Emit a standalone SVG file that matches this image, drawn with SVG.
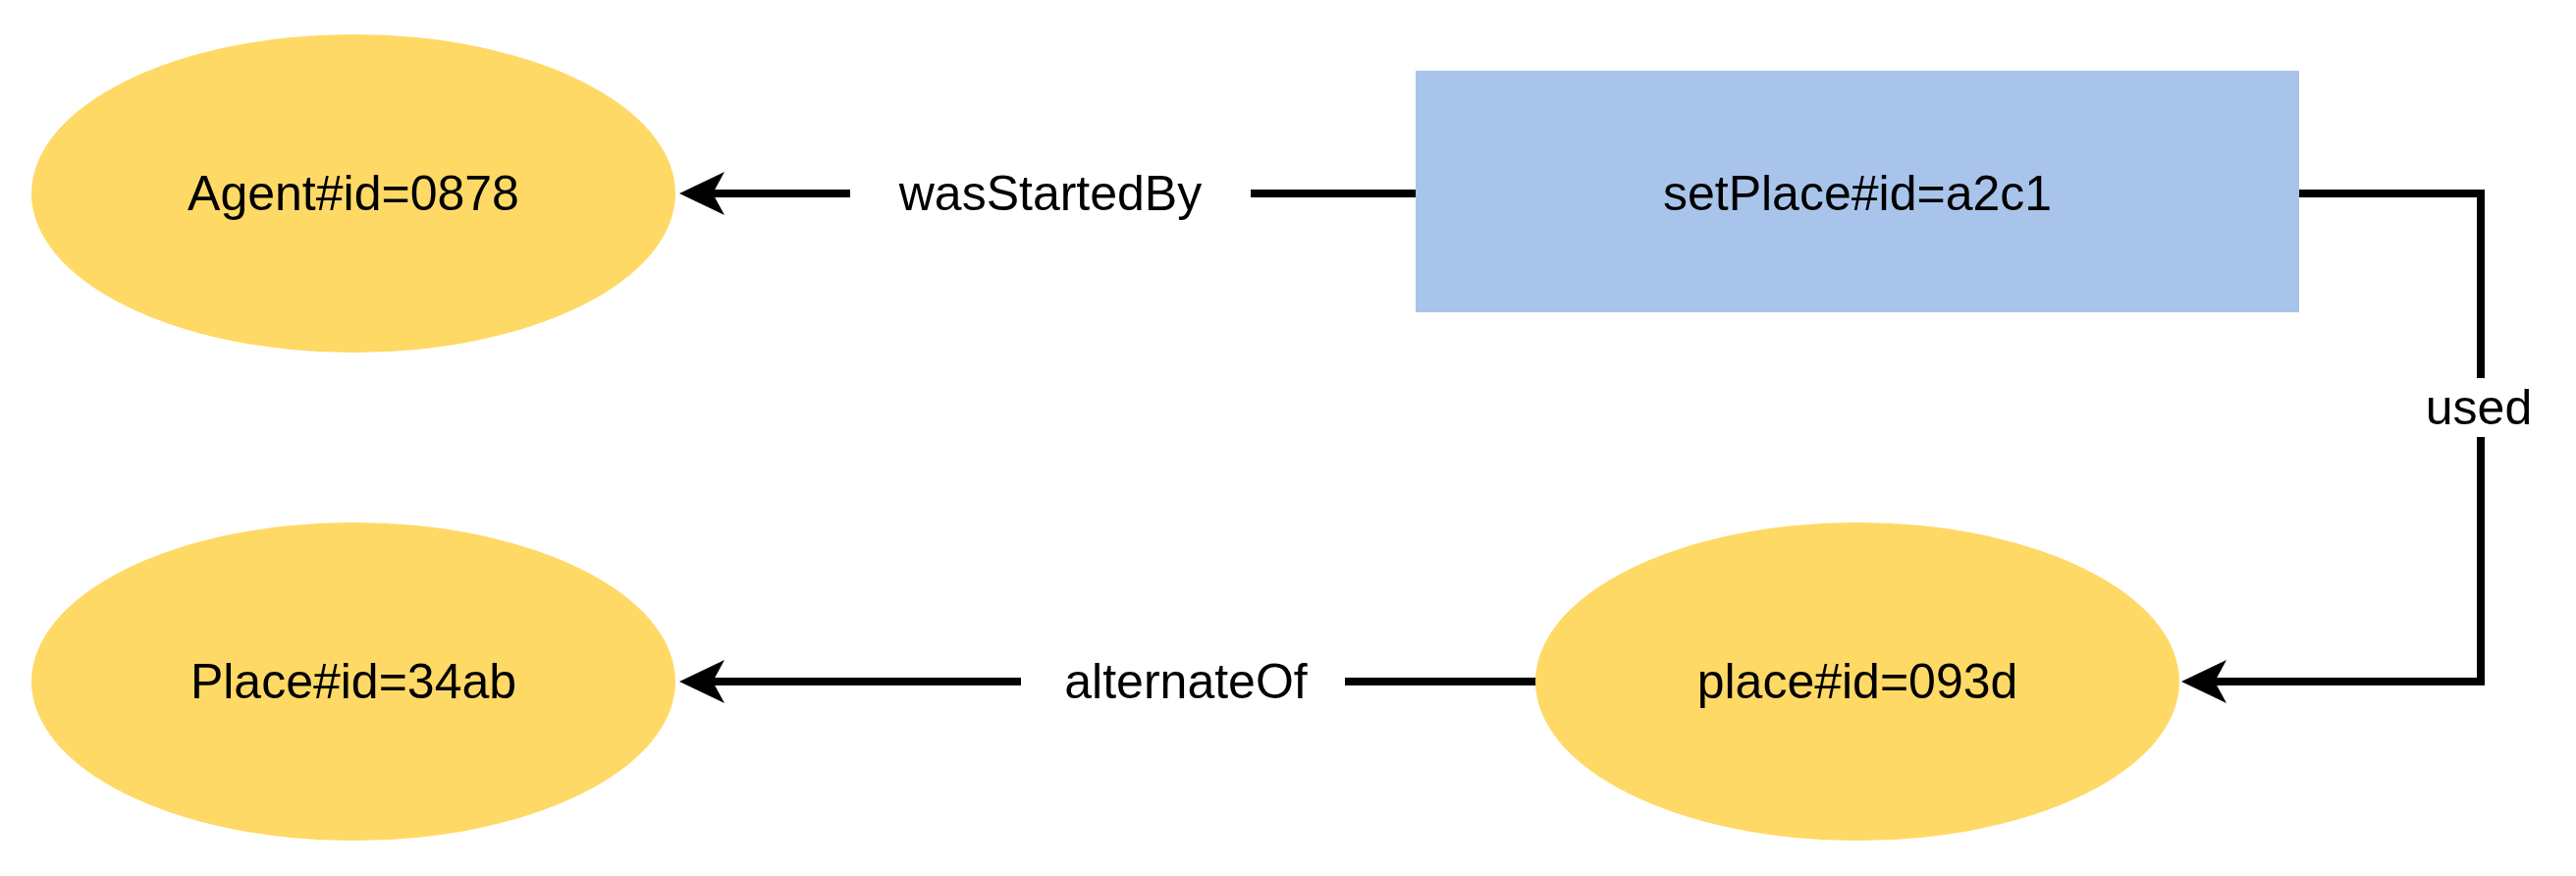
<svg xmlns="http://www.w3.org/2000/svg" width="2624" height="892" viewBox="0 0 2624 892">
<style>
.n{fill:#FFD966;}
.t{font-family:"Liberation Sans",Arial,sans-serif;font-size:50px;fill:#000;text-anchor:middle;dominant-baseline:central;}
.e{fill:none;stroke:#000;stroke-width:8;}
.lb{fill:#fff;}
</style>
<defs>
<marker id="a" markerWidth="10" markerHeight="10" refX="9" refY="5" orient="auto" markerUnits="userSpaceOnUse" viewBox="0 0 10 10" overflow="visible">
<path d="M9,5 L-40,-14 L-28,5 L-40,24 Z" fill="#000" transform="scale(1)"/>
</marker>
</defs>
<rect width="2624" height="892" fill="#fff"/>
<g id="edges">
<path class="e" d="M1442,197 H700"/>
<path d="M692,197 L738,175 L726,197 L738,219 Z"/>
<path class="e" d="M2342,197 H2527 V694 H2230"/>
<path d="M2222,694 L2268,672 L2256,694 L2268,716 Z"/>
<path class="e" d="M1565,694 H700"/>
<path d="M692,694 L738,672 L726,694 L738,716 Z"/>
<rect class="lb" x="866" y="170" width="408" height="56"/>
<text class="t" x="1070" y="197">wasStartedBy</text>
<rect class="lb" x="2445" y="385" width="160" height="60"/>
<text class="t" x="2525" y="415">used</text>
<rect class="lb" x="1040" y="666" width="330" height="56"/>
<text class="t" x="1208" y="694">alternateOf</text>
</g>
<g id="agent"><ellipse class="n" cx="360" cy="197" rx="328" ry="162"/><text class="t" x="360" y="197">Agent#id=0878</text></g>
<g id="setPlace"><rect x="1442" y="72" width="900" height="246" fill="#A9C4EB"/><text class="t" x="1892" y="197">setPlace#id=a2c1</text></g>
<g id="Place"><ellipse class="n" cx="360" cy="694" rx="328" ry="162"/><text class="t" x="360" y="694">Place#id=34ab</text></g>
<g id="place"><ellipse class="n" cx="1892" cy="694" rx="328" ry="162"/><text class="t" x="1892" y="694">place#id=093d</text></g>
</svg>
